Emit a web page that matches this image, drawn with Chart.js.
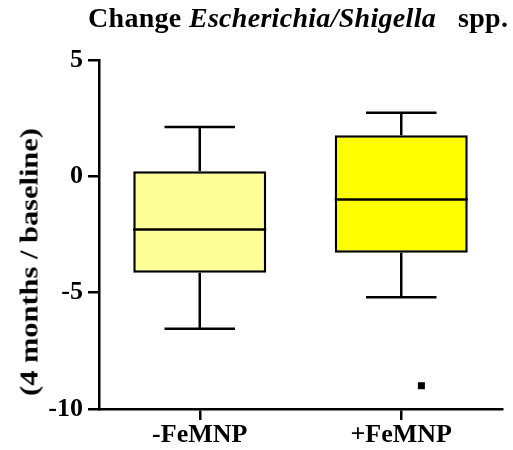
<!DOCTYPE html>
<html>
<head>
<meta charset="utf-8">
<script src="https://cdn.jsdelivr.net/npm/chart.js@4"></script>
<style>
  body { margin: 0; background: #fff; }
  #wrap { position: relative; width: 513px; height: 450px; }
  .serif { font-family: "Liberation Serif", "Times New Roman", serif; font-weight: bold; color: #000; }
  #title {
    position: absolute; left: 88px; top: 4px; white-space: nowrap;
    font-size: 28px; line-height: 28px; letter-spacing: 0.3px; z-index: 2;
  }
  #title i { font-style: italic; }
  #ytitle {
    position: absolute; left: 29px; top: 262px; white-space: nowrap;
    font-size: 26px; line-height: 29px; z-index: 2;
    transform: translate(-50%, -50%) rotate(-90deg) scaleX(1.17);
  }
  canvas { position: absolute; left: 0; top: 0; }
</style>
</head>
<body>
<div id="wrap">
  <div id="title" class="serif">Change <i>Escherichia/Shigella</i>&nbsp;&nbsp; spp.</div>
  <div id="ytitle" class="serif">(4 months / baseline)</div>
  <canvas id="boxChart" width="513" height="450"></canvas>
</div>
<script>
// groups and box plot summary values
const groups = ['-FeMNP', '+FeMNP'];
const whiskerLow = [-6.55, -5.2];
const q1 = [-4.14, -3.28];
const median = [-2.28, -1.0];
const q3 = [0.22, 1.77];
const whiskerHigh = [2.12, 2.73];
const outliers = [[], [-9.0]];
const yTicks = [-10, -5, 0, 5];
const boxColors = ['#FFFF99', '#FFFF00'];

const serif = '"Liberation Serif", "Times New Roman", serif';

// draws whiskers, caps, median lines and outliers on top of the floating bars
const boxPlotExtras = {
    id: 'boxPlotExtras',
    afterDatasetsDraw(chart) {
        const c = chart.ctx;
        const x = chart.scales.x;
        const y = chart.scales.y;
        const meta = chart.getDatasetMeta(0);
        c.save();
        c.strokeStyle = '#000';
        c.lineCap = 'butt';
        groups.forEach((g, i) => {
            const bar = meta.data[i];
            const cx = x.getPixelForValue(i);
            const half = bar.width / 2;
            const capHalf = bar.width * 0.265;

            c.lineWidth = 2.5;
            c.beginPath();
            c.moveTo(cx, y.getPixelForValue(q3[i]));
            c.lineTo(cx, y.getPixelForValue(whiskerHigh[i]));
            c.moveTo(cx, y.getPixelForValue(q1[i]));
            c.lineTo(cx, y.getPixelForValue(whiskerLow[i]));
            c.stroke();

            c.beginPath();
            [whiskerHigh[i], whiskerLow[i]].forEach(v => {
                const py = y.getPixelForValue(v);
                c.moveTo(cx - capHalf, py);
                c.lineTo(cx + capHalf, py);
            });
            c.stroke();

            c.beginPath();
            const my = y.getPixelForValue(median[i]);
            c.moveTo(cx - half, my);
            c.lineTo(cx + half, my);
            c.stroke();

            c.fillStyle = '#000';
            outliers[i].forEach(v => {
                const ox = x.getPixelForValue(i + 0.1);
                const oy = y.getPixelForValue(v);
                c.fillRect(ox - 3.5, oy - 3.5, 7, 7);
            });
        });
        c.restore();
    }
};

new Chart(document.getElementById('boxChart'), {
    type: 'bar',
    data: {
        labels: groups,
        datasets: [{
            data: groups.map((g, i) => [q1[i], q3[i]]),
            backgroundColor: boxColors,
            borderColor: '#000',
            borderWidth: 2.5,
            borderSkipped: false,
            barPercentage: 0.66,
            categoryPercentage: 1
        }]
    },
    options: {
        responsive: false,
        animation: false,
        layout: { padding: { top: 60, right: 11, left: 0, bottom: 0 } },
        plugins: {
            legend: { display: false },
            tooltip: { enabled: false }
        },
        scales: {
            x: {
                offset: true,
                border: { color: '#000', width: 2.5 },
                grid: { display: true, drawOnChartArea: false, color: '#000', lineWidth: 2.5, tickLength: 11, offset: false },
                ticks: { color: '#000', font: { family: serif, size: 26, weight: 'bold' }, padding: 0 },
                afterFit(s) { s.height = 41; }
            },
            y: {
                min: -10,
                max: 5,
                afterBuildTicks(s) { s.ticks = yTicks.map(v => ({ value: v })); },
                border: { color: '#000', width: 2.5 },
                grid: { display: true, drawOnChartArea: false, color: '#000', lineWidth: 2.5, tickLength: 11 },
                ticks: { color: '#000', font: { family: serif, size: 26, weight: 'bold' }, padding: 5 },
                afterFit(s) { s.width = 99; }
            }
        }
    },
    plugins: [boxPlotExtras]
});
</script>
</body>
</html>
